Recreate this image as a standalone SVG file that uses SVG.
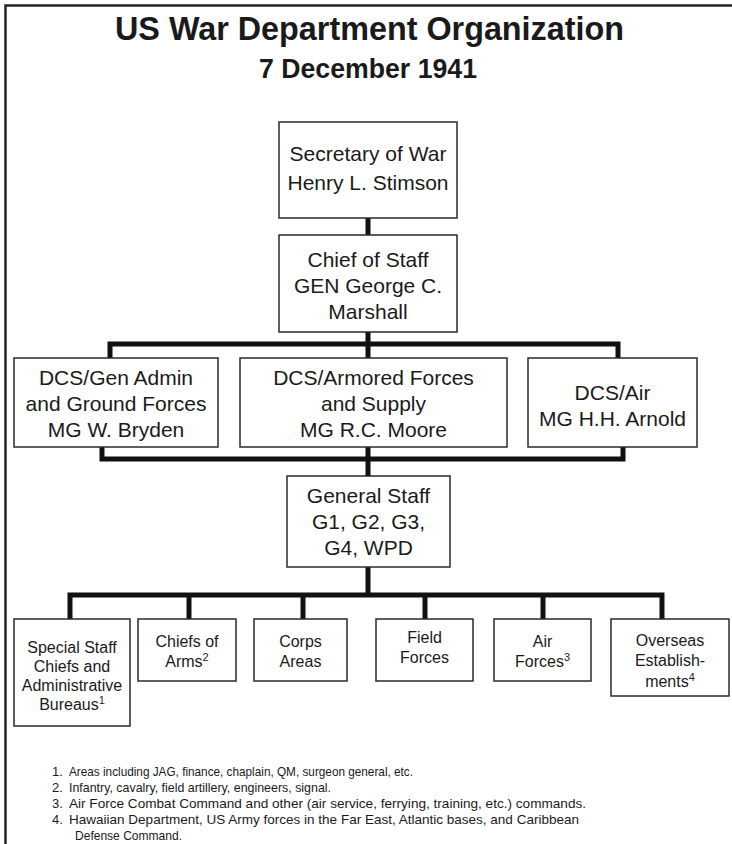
<svg xmlns="http://www.w3.org/2000/svg" width="732" height="844" viewBox="0 0 732 844">
<style>
  text { font-family: "Liberation Sans", Arial, sans-serif; fill: #1a1a1a; }
  .title { font-weight: bold; text-anchor: middle; }
  .box { fill: #ffffff; stroke: #2a2a2a; stroke-width: 1.5; }
  .t21 { font-size: 21px; text-anchor: middle; }
  .t16 { font-size: 16px; text-anchor: middle; }
  .note { font-size: 13px; }
  .sup { font-size: 11px; }
  .conn { fill: none; stroke: #111111; stroke-width: 5; stroke-linejoin: miter; stroke-linecap: butt; }
  .frame { fill: none; stroke: #222222; stroke-width: 2.5; }
</style>
<rect x="0" y="0" width="732" height="844" fill="#ffffff"/>
<path class="frame" d="M5.5,844 V5.5 H732"/>

<text class="title" x="369.5" y="40" font-size="34" textLength="509" lengthAdjust="spacingAndGlyphs">US War Department Organization</text>
<text class="title" x="368" y="78" font-size="27" textLength="218" lengthAdjust="spacingAndGlyphs">7 December 1941</text>

<g id="connectors">
  <path class="conn" d="M368,218 V235"/>
  <path class="conn" d="M110,358 V344 H618 V358 M368,332 V358"/>
  <path class="conn" d="M102,447 V459 H623 V447 M368,447 V476"/>
  <path class="conn" d="M368,567 V595"/>
  <path class="conn" d="M70,619 V595 H662 V619 M189,595 V619 M303,595 V619 M425,595 V619 M543,595 V619"/>
</g>

<g id="secretary">
  <rect class="box" x="279" y="122" width="178" height="96"/>
  <text class="t21" x="368" y="161">Secretary of War</text>
  <text class="t21" x="368" y="190">Henry L. Stimson</text>
</g>

<g id="chief-of-staff">
  <rect class="box" x="279" y="235" width="178" height="97"/>
  <text class="t21" x="368" y="267">Chief of Staff</text>
  <text class="t21" x="368" y="293">GEN George C.</text>
  <text class="t21" x="368" y="319">Marshall</text>
</g>

<g id="dcs-gen-admin">
  <rect class="box" x="14" y="358" width="204" height="89"/>
  <text class="t21" x="116" y="385">DCS/Gen Admin</text>
  <text class="t21" x="116" y="411">and Ground Forces</text>
  <text class="t21" x="116" y="437">MG W. Bryden</text>
</g>

<g id="dcs-armored">
  <rect class="box" x="240" y="358" width="267" height="89"/>
  <text class="t21" x="373.5" y="385">DCS/Armored Forces</text>
  <text class="t21" x="373.5" y="411">and Supply</text>
  <text class="t21" x="373.5" y="437">MG R.C. Moore</text>
</g>

<g id="dcs-air">
  <rect class="box" x="528" y="358" width="169" height="89"/>
  <text class="t21" x="612.5" y="400">DCS/Air</text>
  <text class="t21" x="612.5" y="426">MG H.H. Arnold</text>
</g>

<g id="general-staff">
  <rect class="box" x="287" y="476" width="163" height="91"/>
  <text class="t21" x="368.5" y="503">General Staff</text>
  <text class="t21" x="368.5" y="529">G1, G2, G3,</text>
  <text class="t21" x="368.5" y="555">G4, WPD</text>
</g>

<g id="special-staff">
  <rect class="box" x="14" y="619" width="116" height="107"/>
  <text class="t16" x="72" y="653">Special Staff</text>
  <text class="t16" x="72" y="672">Chiefs and</text>
  <text class="t16" x="72" y="691">Administrative</text>
  <text class="t16" x="72" y="710">Bureaus<tspan class="sup" baseline-shift="super">1</tspan></text>
</g>

<g id="chiefs-of-arms">
  <rect class="box" x="138" y="619" width="98" height="62"/>
  <text class="t16" x="187" y="647">Chiefs of</text>
  <text class="t16" x="187" y="667">Arms<tspan class="sup" baseline-shift="super">2</tspan></text>
</g>

<g id="corps-areas">
  <rect class="box" x="254" y="619" width="93" height="62"/>
  <text class="t16" x="300.5" y="647">Corps</text>
  <text class="t16" x="300.5" y="667">Areas</text>
</g>

<g id="field-forces">
  <rect class="box" x="376" y="619" width="97" height="62"/>
  <text class="t16" x="424.5" y="643">Field</text>
  <text class="t16" x="424.5" y="663">Forces</text>
</g>

<g id="air-forces">
  <rect class="box" x="494" y="619" width="97" height="62"/>
  <text class="t16" x="542.5" y="647">Air</text>
  <text class="t16" x="542.5" y="667">Forces<tspan class="sup" baseline-shift="super">3</tspan></text>
</g>

<g id="overseas">
  <rect class="box" x="611" y="619" width="118" height="77"/>
  <text class="t16" x="670" y="646">Overseas</text>
  <text class="t16" x="670" y="666">Establish-</text>
  <text class="t16" x="670" y="687">ments<tspan class="sup" baseline-shift="super">4</tspan></text>
</g>

<g id="footnotes">
  <text class="note" x="52" y="776">1.</text>
  <text class="note" x="69" y="776" textLength="344" lengthAdjust="spacingAndGlyphs">Areas including JAG, finance, chaplain, QM, surgeon general, etc.</text>
  <text class="note" x="52" y="792">2.</text>
  <text class="note" x="69" y="792" textLength="262" lengthAdjust="spacingAndGlyphs">Infantry, cavalry, field artillery, engineers, signal.</text>
  <text class="note" x="52" y="808">3.</text>
  <text class="note" x="69" y="808" textLength="517" lengthAdjust="spacingAndGlyphs">Air Force Combat Command and other (air service, ferrying, training, etc.) commands.</text>
  <text class="note" x="52" y="824">4.</text>
  <text class="note" x="69" y="824" textLength="510" lengthAdjust="spacingAndGlyphs">Hawaiian Department, US Army forces in the Far East, Atlantic bases, and Caribbean</text>
  <text class="note" x="75" y="840" textLength="107" lengthAdjust="spacingAndGlyphs">Defense Command.</text>
</g>
</svg>
